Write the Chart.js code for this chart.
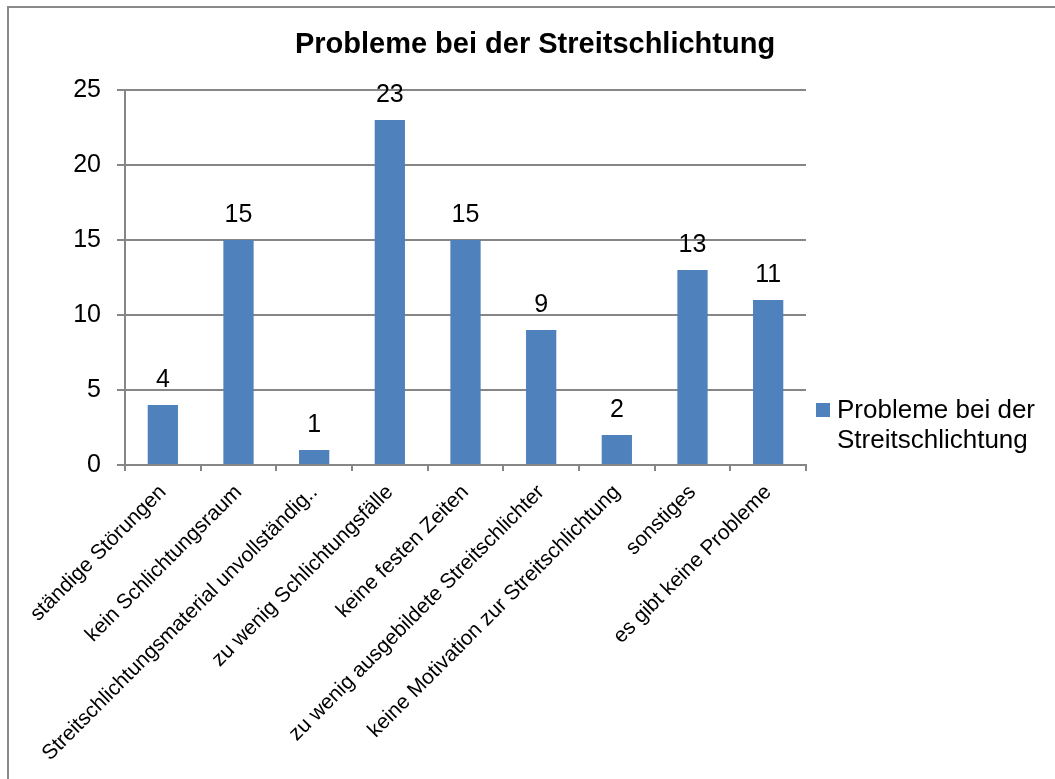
<!DOCTYPE html>
<html>
<head>
<meta charset="utf-8">
<script src="https://cdn.jsdelivr.net/npm/chart.js@4/dist/chart.umd.min.js"></script>
<style>
  html, body { margin: 0; padding: 0; background: #fff; overflow: hidden; }
  #wrap { position: relative; width: 1055px; height: 779px; }
  #rahmen { position: absolute; left: 7px; top: 6px; right: -10px; bottom: -10px; border-left: 2px solid #8a8a8a; border-top: 2px solid #8a8a8a; }
  canvas { position: absolute; left: 0; top: 0; }
</style>
</head>
<body>
<div id="wrap">
  <div id="rahmen"></div>
  <canvas id="grafico" width="1055" height="779"></canvas>
</div>
<script>
const TITEL = 'Probleme bei der Streitschlichtung';
const kategorien = [
  'ständige Störungen',
  'kein Schlichtungsraum',
  'Streitschlichtungsmaterial unvollständig..',
  'zu wenig Schlichtungsfälle',
  'keine festen Zeiten',
  'zu wenig ausgebildete Streitschlichter',
  'keine Motivation zur Streitschlichtung',
  'sonstiges',
  'es gibt keine Probleme'
];
const werte = [4, 15, 1, 23, 15, 9, 2, 13, 11];
const legendeZeilen = ['Probleme bei der', 'Streitschlichtung'];

const SCHRIFT = '"Liberation Sans", Arial, sans-serif';
const BLAU = '#4F81BD';
const GRAU = '#868686';

// Titel über die ganze Breite zentriert
const titel = {
  id: 'titel',
  afterDraw(chart) {
    const ctx = chart.ctx;
    ctx.save();
    ctx.font = 'bold 29px ' + SCHRIFT;
    ctx.fillStyle = '#000';
    ctx.textAlign = 'center';
    ctx.textBaseline = 'alphabetic';
    ctx.fillText(TITEL, 535, 53);
    ctx.restore();
  }
};

// Werte über den Balken
const werteLabels = {
  id: 'werteLabels',
  afterDatasetsDraw(chart) {
    const ctx = chart.ctx;
    const meta = chart.getDatasetMeta(0);
    ctx.save();
    ctx.font = '25px ' + SCHRIFT;
    ctx.fillStyle = '#000';
    ctx.textAlign = 'center';
    ctx.textBaseline = 'alphabetic';
    meta.data.forEach((bar, i) => {
      ctx.fillText(String(werte[i]), bar.x, bar.y - 18);
    });
    ctx.restore();
  }
};

// Legende rechts, zweizeilig
const legendeRechts = {
  id: 'legendeRechts',
  afterDraw(chart) {
    const ctx = chart.ctx;
    const x = chart.chartArea.right + 10;
    const y = 400;
    ctx.save();
    ctx.fillStyle = BLAU;
    ctx.fillRect(x, y + 3, 14, 14);
    ctx.fillStyle = '#000';
    ctx.font = '26px ' + SCHRIFT;
    ctx.textAlign = 'left';
    ctx.textBaseline = 'alphabetic';
    legendeZeilen.forEach((zeile, i) => {
      ctx.fillText(zeile, x + 21, y + 18 + i * 30);
    });
    ctx.restore();
  }
};

new Chart(document.getElementById('grafico'), {
  type: 'bar',
  data: {
    labels: kategorien,
    datasets: [{
      label: legendeZeilen.join(' '),
      data: werte,
      backgroundColor: BLAU,
      borderWidth: 0,
      categoryPercentage: 1,
      barPercentage: 0.4
    }]
  },
  plugins: [titel, werteLabels, legendeRechts],
  options: {
    responsive: false,
    animation: false,
    layout: { padding: { left: 0, right: 249, top: 90, bottom: 0 } },
    plugins: {
      legend: { display: false },
      tooltip: { enabled: false },
      title: { display: false }
    },
    scales: {
      x: {
        afterFit(scale) { scale.height = 314; },
        grid: { offset: true, drawOnChartArea: false, drawTicks: true, tickLength: 6, color: GRAU, lineWidth: 2 },
        border: { display: true, color: GRAU, width: 2 },
        ticks: {
          color: '#000',
          font: { family: SCHRIFT, size: 21 },
          maxRotation: 45,
          minRotation: 45,
          autoSkip: false,
          padding: 9
        }
      },
      y: {
        min: 0,
        max: 25,
        afterFit(scale) { scale.width = 125; },
        grid: { color: GRAU, lineWidth: 2, tickLength: 8 },
        border: { display: true, color: GRAU, width: 2 },
        ticks: {
          stepSize: 5,
          color: '#000',
          font: { family: SCHRIFT, size: 25 },
          padding: 16
        }
      }
    }
  }
});
</script>
</body>
</html>
